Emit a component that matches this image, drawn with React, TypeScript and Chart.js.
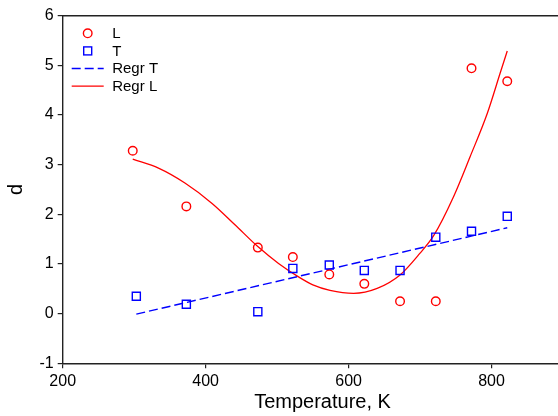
import React, { useEffect, useRef } from 'react';
import { Chart, registerables } from 'chart.js';

Chart.register(...registerables);

// Measured data (temperature in K, d)
const lTemps = [298, 373, 473, 522, 573, 622, 672, 722, 772, 822];
const lValues = [3.28, 2.16, 1.33, 1.14, 0.79, 0.6, 0.25, 0.25, 4.94, 4.68];
const tTemps = [303, 373, 473, 522, 573, 622, 672, 722, 772, 822];
const tValues = [0.35, 0.19, 0.04, 0.91, 0.98, 0.87, 0.87, 1.54, 1.66, 1.96];

// Regression curves
const regrTTemps = [303, 822];
const regrTValues = [-0.01, 1.73];
const regrLTemps = [298, 334, 371, 409, 441, 473, 502, 530, 550, 574, 607, 640, 672, 700, 719, 747, 770, 794, 812, 822];
const regrLValues = [3.11, 2.93, 2.63, 2.22, 1.79, 1.35, 1.01, 0.74, 0.58, 0.47, 0.41, 0.51, 0.78, 1.22, 1.57, 2.36, 3.16, 4.03, 4.84, 5.29];

const xTicks = [200, 400, 600, 800];
const yTicks = [-1, 0, 1, 2, 3, 4, 5, 6];

const seriesNames = ['L', 'T', 'Regr T', 'Regr L'];

const RED = '#ff0000';
const BLUE = '#0000ff';
const FONT = '"Liberation Sans", Arial, sans-serif';

const toPts = (xs: number[], ys: number[]) => xs.map((x, i) => ({ x, y: ys[i] }));

const framePlugin = {
  id: 'frame',
  beforeDatasetsDraw(chart: any) {
    const { ctx, chartArea: a } = chart;
    ctx.save();
    ctx.strokeStyle = '#222';
    ctx.lineWidth = 1.4;
    ctx.beginPath();
    ctx.moveTo(a.left, a.top);
    ctx.lineTo(a.right, a.top);
    ctx.lineTo(a.right, a.bottom);
    ctx.stroke();
    ctx.restore();
  },
};

const legendPlugin = {
  id: 'innerLegend',
  afterDraw(chart: any) {
    const { ctx, chartArea: a } = chart;
    const cx = a.left + 25;
    let y = a.top + 17.6;
    ctx.save();
    chart.data.datasets.forEach((ds: any) => {
      ctx.save();
      ctx.strokeStyle = ds.borderColor;
      ctx.lineWidth = 1.4;
      if (ds.showLine) {
        ctx.setLineDash(ds.borderDash || []);
        ctx.beginPath();
        ctx.moveTo(cx - 16, y);
        ctx.lineTo(cx + 16, y);
        ctx.stroke();
      } else if (ds.pointStyle === 'rect') {
        ctx.strokeRect(cx - 4, y - 4, 8, 8);
      } else {
        ctx.beginPath();
        ctx.arc(cx, y, 4.3, 0, Math.PI * 2);
        ctx.stroke();
      }
      ctx.restore();
      ctx.fillStyle = '#000';
      ctx.font = `15px ${FONT}`;
      ctx.textBaseline = 'middle';
      ctx.textAlign = 'left';
      ctx.fillText(ds.label, cx + 24.5, y + 0.5);
      y += 17.6;
    });
    ctx.restore();
  },
};

export default function App() {
  const canvasRef = useRef<HTMLCanvasElement | null>(null);

  useEffect(() => {
    if (!canvasRef.current) return;
    const chart = new Chart(canvasRef.current, {
      type: 'scatter',
      data: {
        datasets: [
          {
            label: seriesNames[0],
            data: toPts(lTemps, lValues),
            pointStyle: 'circle',
            pointRadius: 4.3,
            borderColor: RED,
            backgroundColor: 'rgba(0,0,0,0)',
            pointBorderWidth: 1.4,
            showLine: false,
          },
          {
            label: seriesNames[1],
            data: toPts(tTemps, tValues),
            pointStyle: 'rect',
            pointRadius: 5.7,
            borderColor: BLUE,
            backgroundColor: 'rgba(0,0,0,0)',
            pointBorderWidth: 1.4,
            showLine: false,
          },
          {
            label: seriesNames[2],
            data: toPts(regrTTemps, regrTValues),
            showLine: true,
            pointRadius: 0,
            borderColor: BLUE,
            borderWidth: 1.4,
            borderDash: [9, 4],
            backgroundColor: BLUE,
          },
          {
            label: seriesNames[3],
            data: toPts(regrLTemps, regrLValues),
            showLine: true,
            pointRadius: 0,
            borderColor: RED,
            borderWidth: 1.3,
            cubicInterpolationMode: 'monotone',
            backgroundColor: RED,
          },
        ],
      },
      options: {
        responsive: false,
        animation: false,
        devicePixelRatio: 1,
        layout: { padding: { left: 0, top: 15.7, right: 17.7, bottom: 0 } },
        plugins: {
          legend: { display: false },
          tooltip: { enabled: false },
        },
        scales: {
          x: {
            type: 'linear',
            min: 200,
            max: 927,
            afterBuildTicks: (scale: any) => {
              scale.ticks = xTicks.map((v) => ({ value: v }));
            },
            afterFit: (scale: any) => {
              scale.height = 52.7;
            },
            grid: {
              drawOnChartArea: false,
              drawTicks: true,
              tickLength: 5,
              color: '#222',
              lineWidth: 1.2,
            },
            border: { display: true, color: '#222', width: 1.4 },
            ticks: {
              color: '#000',
              padding: 4,
              maxRotation: 0,
              font: { family: FONT, size: 16 },
            },
            title: {
              display: true,
              text: 'Temperature, K',
              color: '#000',
              font: { family: FONT, size: 20 },
              padding: { top: 0, bottom: 2 },
            },
          },
          y: {
            type: 'linear',
            min: -1,
            max: 6,
            afterBuildTicks: (scale: any) => {
              scale.ticks = yTicks.map((v) => ({ value: v }));
            },
            afterFit: (scale: any) => {
              scale.width = 62.7;
            },
            grid: {
              drawOnChartArea: false,
              drawTicks: true,
              tickLength: 5,
              color: '#222',
              lineWidth: 1.2,
            },
            border: { display: true, color: '#222', width: 1.4 },
            ticks: {
              color: '#000',
              padding: 4,
              font: { family: FONT, size: 16 },
            },
            title: {
              display: true,
              text: 'd',
              color: '#000',
              font: { family: FONT, size: 20 },
              padding: { top: 4, bottom: 0 },
            },
          },
        },
      },
      plugins: [framePlugin, legendPlugin],
    } as any);
    return () => chart.destroy();
  }, []);

  return (
    <div
      style={{
        position: 'fixed',
        left: 0,
        top: 0,
        width: 558,
        height: 416,
        overflow: 'hidden',
        background: '#fff',
      }}
    >
      <canvas ref={canvasRef} width={600} height={416} style={{ display: 'block' }} />
    </div>
  );
}
